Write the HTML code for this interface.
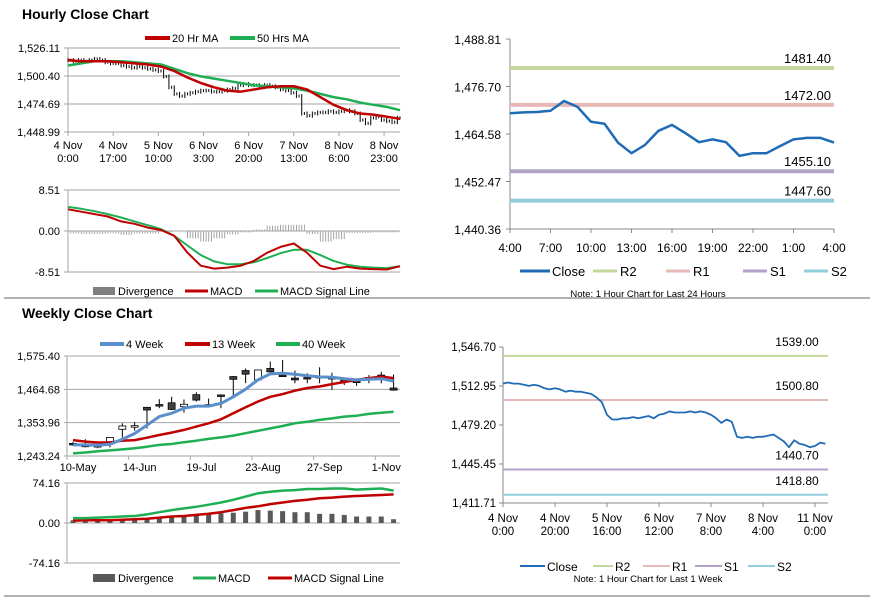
<!DOCTYPE html>
<html><head><meta charset="utf-8"><style>
html,body{margin:0;padding:0;background:#fff;}
svg{display:block;font-family:"Liberation Sans",Arial,sans-serif;}
</style></head><body>
<svg id="chart" width="873" height="601" viewBox="0 0 873 601" xmlns="http://www.w3.org/2000/svg">
<rect x="0" y="0" width="873" height="601" fill="#fff"/>
<text x="22" y="19" font-size="14" font-weight="bold" fill="#000">Hourly Close Chart</text>
<text x="22" y="318" font-size="14" font-weight="bold" fill="#000">Weekly Close Chart</text>
<line x1="4" y1="298" x2="870" y2="298" stroke="#999" stroke-width="1.5"/>
<line x1="4" y1="596" x2="870" y2="596" stroke="#999" stroke-width="1.5"/>
</svg>
<script>
// ---------- data ----------
const hourlyClose = [1515,1514,1515,1514,1515,1516,1515,1513,1512,1512,1510,1509,1508,1509,1508,1507,1506,1505,1500,1490,1484,1482,1484,1485,1486,1487,1487,1486,1486,1487,1488,1489,1492,1493,1492,1492,1491,1492,1491,1490,1488,1487,1485,1482,1466,1464,1466,1467,1467,1468,1467,1468,1469,1468,1466,1460,1457,1462,1463,1460,1459,1458,1462];
const hourlyMA20 = [1515,1514,1514,1514,1513,1512,1511,1509,1505,1499,1494,1490,1487,1486,1488,1490,1491,1491,1488,1481,1474,1469,1466,1465,1463,1461];
const hourlyMA50 = [1510,1512,1514,1514,1514,1513,1512,1511,1507,1503,1500,1498,1496,1494,1492,1491,1490,1489,1487,1484,1481,1479,1476,1474,1472,1469];
const hourlyMACD = [4.5,4.0,3.5,3.0,2.0,1.5,0.7,0.2,-1.0,-4.5,-7.2,-7.8,-7.6,-7.2,-6.2,-4.5,-3.3,-2.6,-4.5,-7.2,-7.9,-7.4,-7.8,-7.9,-8.0,-7.3];
const hourlySignal = [5.0,4.6,4.1,3.5,2.8,2.0,1.2,0.4,-1.0,-3.0,-5.0,-6.3,-6.9,-6.9,-6.5,-5.6,-4.6,-3.9,-3.9,-5.0,-6.2,-7.0,-7.4,-7.6,-7.7,-7.3];
const hourlyPriceTicks = ["1,448.99","1,474.69","1,500.40","1,526.11"];
const hourlyPriceTickVals = [1448.99,1474.69,1500.40,1526.11];
const hourlyXLabels = [["4 Nov","0:00"],["4 Nov","17:00"],["5 Nov","10:00"],["6 Nov","3:00"],["6 Nov","20:00"],["7 Nov","13:00"],["8 Nov","6:00"],["8 Nov","23:00"]];
const hourlyXHours = [0,17,34,51,68,85,102,119];

const dayClose = [1469.9,1470.1,1470.2,1470.5,1473.0,1471.5,1467.7,1467.2,1462.4,1459.7,1461.8,1465.4,1466.9,1464.8,1462.5,1463.2,1462.5,1459.0,1459.7,1459.7,1461.5,1463.2,1463.6,1463.6,1462.4];
const dayLevels = [1481.40,1472.00,1455.10,1447.60];
const dayLevelNames = ["R2","R1","S1","S2"];
const dayTickVals = [1440.36,1452.47,1464.58,1476.70,1488.81];
const dayXLabels = ["4:00","7:00","10:00","13:00","16:00","19:00","22:00","1:00","4:00"];

const weekOpen  = [1285,1282,1278,1291,1332,1343,1405,1414,1420,1407,1447,1414,1446,1507,1527,1496,1534,1512,1502,1504,1507,1504,1496,1492,1504,1512,1469];
const weekClose = [1283,1274,1277,1305,1343,1344,1396,1413,1398,1415,1429,1413,1445,1498,1515,1529,1523,1511,1496,1503,1506,1503,1495,1487,1503,1506,1462];
const weekHigh  = [1290,1299,1283,1305,1352,1356,1405,1432,1440,1431,1455,1434,1448,1509,1534,1529,1557,1562,1527,1518,1538,1520,1504,1501,1512,1523,1514];
const weekLow   = [1277,1272,1269,1272,1305,1327,1335,1402,1396,1387,1424,1407,1402,1441,1485,1494,1520,1509,1485,1485,1485,1463,1479,1476,1485,1485,1460];
const week4MA  = [1280,1280,1279,1282,1299,1318,1346,1374,1385,1402,1409,1409,1418,1440,1465,1496,1516,1518,1515,1510,1506,1505,1500,1496,1498,1500,1492];
const week13MA = [1296,1291,1288,1288,1294,1296,1304,1313,1321,1330,1341,1352,1365,1385,1405,1424,1440,1449,1460,1469,1474,1482,1489,1496,1502,1507,1502];
const week40MA = [1252,1255,1259,1262,1265,1269,1274,1280,1283,1289,1294,1300,1305,1311,1319,1327,1335,1343,1352,1357,1363,1368,1374,1377,1383,1387,1390];
const weekMACD   = [9,9,10,11,12,13,16,20,24,27,30,34,38,43,49,55,58,60,61,63,63,64,64,62,63,64,60];
const weekSignal = [4,5,5,5,6,7,8,10,12,13,15,17,20,24,28,31,35,38,41,43,46,47,49,50,51,52,53];
const weekTickVals = [1243.24,1353.96,1464.68,1575.40];
const weekXLabels = ["10-May","14-Jun","19-Jul","23-Aug","27-Sep","1-Nov"];
const weekXIdx = [0,5,10,15,20,25];

const wkHourClose = [1515,1516,1515,1515,1514,1513,1514,1513,1511,1510,1511,1510,1508,1509,1508,1508,1507,1506,1503,1499,1488,1484,1484,1485,1485,1486,1485,1486,1487,1485,1488,1489,1491,1490,1490,1490,1491,1490,1491,1490,1488,1485,1481,1484,1482,1469,1468,1469,1468,1469,1469,1470,1471,1468,1465,1460,1466,1463,1462,1460,1461,1464,1463];
const wkLevels = [1539.00,1500.80,1440.70,1418.80];
const wkTickVals = [1411.71,1445.45,1479.20,1512.95,1546.70];
const wkXLabels = [["4 Nov","0:00"],["4 Nov","20:00"],["5 Nov","16:00"],["6 Nov","12:00"],["7 Nov","8:00"],["8 Nov","4:00"],["11 Nov","0:00"]];
const wkXHours = [0,20,40,60,80,100,120];

// ---------- helpers ----------
const NS = "http://www.w3.org/2000/svg";
const svg = document.getElementById('chart');
function mk(parent, tag, attrs, name) {
  const el = document.createElementNS(NS, tag);
  for (const k in attrs) el.setAttribute(k, attrs[k]);
  
  
  parent.appendChild(el);
  return el;
}
function txt(x, y, s, size, anchor, name, color) {
  const t = mk(svg, 'text', {x: x, y: y, 'font-size': size, 'text-anchor': anchor || 'start', fill: color || '#000'}, name);
  t.textContent = s;
  return t;
}
function lin(d0, d1, r0, r1) { return v => r0 + (v - d0) * (r1 - r0) / (d1 - d0); }
function fmt(v) { return v.toFixed(2).replace(/\B(?=(\d{3})+(?!\d))/g, ','); }
function poly(pts, color, w, name) {
  return mk(svg, 'polyline', {points: pts.map(p => p[0].toFixed(1) + ',' + p[1].toFixed(1)).join(' '), fill: 'none', stroke: color, 'stroke-width': w, 'stroke-linejoin': 'round'}, name);
}
function legLine(x1, x2, y, color, w, label, name) {
  mk(svg, 'line', {x1: x1, y1: y, x2: x2, y2: y, stroke: color, 'stroke-width': w}, name + '-swatch');
  txt(x2 + 2, y + 4, label, 11, 'start', name + '-label');
}
function legRect(x1, x2, y, color, label, name) {
  mk(svg, 'rect', {x: x1, y: y - 4, width: x2 - x1, height: 8, fill: color}, name + '-swatch');
  txt(x2 + 3, y + 4, label, 11, 'start', name + '-label');
}
const GRID = '#a6a6a6';

// ---------- Panel 1: hourly price ----------
(function () {
  const x = lin(0, 125, 68, 400), y = lin(1448.99, 1526.11, 132, 48);
  hourlyPriceTickVals.forEach((v, i) => {
    mk(svg, 'line', {x1: 64, y1: y(v), x2: 400, y2: y(v), stroke: GRID, 'stroke-width': 1}, 'hourly-gridline');
    txt(60, y(v) + 4, hourlyPriceTicks[i], 11, 'end', 'hourly-y-tick');
  });
  mk(svg, 'line', {x1: 68, y1: 48, x2: 68, y2: 132, stroke: GRID}, 'hourly-y-axis');
  hourlyXHours.forEach((h, i) => {
    mk(svg, 'line', {x1: x(h), y1: 132, x2: x(h), y2: 136, stroke: GRID}, 'hourly-x-tickmark');
    txt(x(h), 149, hourlyXLabels[i][0], 11, 'middle', 'hourly-x-tick');
    txt(x(h), 162, hourlyXLabels[i][1], 11, 'middle', 'hourly-x-tick');
  });
  hourlyClose.forEach((c, i) => {
    const prev = i ? hourlyClose[i - 1] : c;
    const hi = Math.max(prev, c), lo = Math.min(prev, c);
    const y1 = y(hi) - 2, y2 = Math.max(y(lo) + 2, y1 + 4);
    mk(svg, 'line', {x1: x(2 * i), y1: y1, x2: x(2 * i), y2: y2, stroke: '#000', 'stroke-width': 1}, 'hourly-price-bar');
    mk(svg, 'line', {x1: x(2 * i + 1), y1: y(c) - 1.5, x2: x(2 * i + 1), y2: y(c) + 1.5, stroke: '#000', 'stroke-width': 1}, 'hourly-price-bar');
  });
  poly(hourlyMA50.map((v, i) => [x(5 * i), y(v)]), '#1fae54', 2.5, 'hourly-ma50-line');
  poly(hourlyMA20.map((v, i) => [x(5 * i), y(v)]), '#c00000', 2.5, 'hourly-ma20-line');
  legLine(145, 170, 38, '#c00000', 4, '20 Hr MA', 'legend-ma20');
  legLine(230, 255, 38, '#1fae54', 4, '50 Hrs MA', 'legend-ma50');
})();

// ---------- Panel 2: hourly MACD ----------
(function () {
  const x = lin(0, 125, 68, 400), y = lin(-8.51, 8.51, 272, 190);
  [-8.51, 0, 8.51].forEach(v => {
    mk(svg, 'line', {x1: 64, y1: y(v), x2: 400, y2: y(v), stroke: GRID}, 'hourly-macd-gridline');
    txt(60, y(v) + 4, v.toFixed(2), 11, 'end', 'hourly-macd-y-tick');
  });
  mk(svg, 'line', {x1: 68, y1: 190, x2: 68, y2: 272, stroke: GRID}, 'hourly-macd-y-axis');
  hourlyMACD.forEach((m, i) => {
    const d = m - hourlySignal[i];
    for (let k = 0; k < 5 && 5 * i + k <= 125; k++) {
      const xx = x(5 * i + k);
      mk(svg, 'line', {x1: xx, y1: y(0), x2: xx, y2: y(d), stroke: '#999', 'stroke-width': 0.9}, 'hourly-divergence-bar');
    }
  });
  poly(hourlySignal.map((v, i) => [x(5 * i), y(v)]), '#1fae54', 2, 'hourly-signal-line');
  poly(hourlyMACD.map((v, i) => [x(5 * i), y(v)]), '#c00000', 2, 'hourly-macd-line');
  legRect(93, 115, 291, '#7f7f7f', 'Divergence', 'legend-hourly-divergence');
  legLine(185, 208, 291, '#c00000', 3, 'MACD', 'legend-hourly-macd');
  legLine(255, 278, 291, '#1fae54', 3, 'MACD Signal Line', 'legend-hourly-signal');
})();

// ---------- Panel 3: last 24h ----------
(function () {
  const x = lin(0, 24, 510, 834), y = lin(1440.36, 1488.81, 229, 39);
  mk(svg, 'line', {x1: 510, y1: 39, x2: 510, y2: 229, stroke: '#888'}, 'day-y-axis');
  mk(svg, 'line', {x1: 510, y1: 229, x2: 834, y2: 229, stroke: '#888'}, 'day-x-axis');
  dayTickVals.forEach(v => {
    mk(svg, 'line', {x1: 506, y1: y(v), x2: 510, y2: y(v), stroke: '#888'}, 'day-y-tickmark');
    txt(501, y(v) + 5, fmt(v), 12, 'end', 'day-y-tick');
  });
  dayXLabels.forEach((s, i) => {
    mk(svg, 'line', {x1: x(3 * i), y1: 229, x2: x(3 * i), y2: 233, stroke: '#888'}, 'day-x-tickmark');
    txt(x(3 * i), 252, s, 12, 'middle', 'day-x-tick');
  });
  const cols = ['#c3d69b', '#e6b9b8', '#b3a2c7', '#93cddd'];
  dayLevels.forEach((v, i) => {
    mk(svg, 'line', {x1: 510, y1: y(v), x2: 834, y2: y(v), stroke: cols[i], 'stroke-width': 4}, 'day-level-' + dayLevelNames[i].toLowerCase());
    txt(831, y(v) - 5, v.toFixed(2), 13, 'end', 'day-level-label');
  });
  poly(dayClose.map((v, i) => [x(i), y(v)]), '#1f6bb5', 2.5, 'day-close-line');
  legLine(520, 550, 271, '#1f6bb5', 3, '', 'legend-day-close');
  txt(552, 276, 'Close', 13, 'start', 'legend-day-close-text');
  [[593, 617, 'R2'], [666, 690, 'R1'], [743, 767, 'S1'], [804, 828, 'S2']].forEach((L, i) => {
    mk(svg, 'line', {x1: L[0], y1: 271, x2: L[1], y2: 271, stroke: cols[i], 'stroke-width': 3}, 'legend-day-' + L[2].toLowerCase());
    txt(L[1] + 3, 276, L[2], 13, 'start', 'legend-day-' + L[2].toLowerCase() + '-text');
  });
  txt(648, 297, 'Note: 1 Hour Chart for Last 24 Hours', 9.5, 'middle', 'day-note');
})();

// ---------- Panel 4: weekly candles ----------
(function () {
  const x = i => 73 + 12.33 * i, y = lin(1243.24, 1575.40, 456, 356);
  weekTickVals.forEach(v => {
    mk(svg, 'line', {x1: 64, y1: y(v), x2: 400, y2: y(v), stroke: GRID}, 'weekly-gridline');
    txt(60, y(v) + 4, fmt(v), 11, 'end', 'weekly-y-tick');
  });
  mk(svg, 'line', {x1: 67, y1: 356, x2: 67, y2: 456, stroke: GRID}, 'weekly-y-axis');
  weekXIdx.forEach((k, i) => {
    mk(svg, 'line', {x1: x(k) - 6, y1: 456, x2: x(k) - 6, y2: 460, stroke: GRID}, 'weekly-x-tickmark');
    txt(x(k) + 5, 471, weekXLabels[i], 11, 'middle', 'weekly-x-tick');
  });
  weekOpen.forEach((o, i) => {
    const c = weekClose[i];
    mk(svg, 'line', {x1: x(i), y1: y(weekHigh[i]), x2: x(i), y2: y(weekLow[i]), stroke: '#000', 'stroke-width': 1}, 'weekly-candle-wick');
    const top = y(Math.max(o, c)), h = Math.max(Math.abs(y(o) - y(c)), 1.5);
    mk(svg, 'rect', {x: x(i) - 3.5, y: top, width: 7, height: h, fill: c < o ? '#404040' : '#fff', stroke: '#000', 'stroke-width': 0.8}, 'weekly-candle-body');
  });
  poly(week40MA.map((v, i) => [x(i), y(v)]), '#1fae54', 2.5, 'weekly-40wk-line');
  poly(week13MA.map((v, i) => [x(i), y(v)]), '#c00000', 2.5, 'weekly-13wk-line');
  poly(week4MA.map((v, i) => [x(i), y(v)]), '#5b8fcb', 3, 'weekly-4wk-line');
  legLine(100, 124, 344, '#5b8fcb', 4, '4 Week', 'legend-4wk');
  legLine(185, 210, 344, '#c00000', 4, '13 Week', 'legend-13wk');
  legLine(276, 300, 344, '#1fae54', 4, '40 Week', 'legend-40wk');
})();

// ---------- Panel 5: weekly MACD ----------
(function () {
  const x = i => 73 + 12.33 * i, y = lin(-74.16, 74.16, 563, 483);
  [-74.16, 0, 74.16].forEach(v => {
    mk(svg, 'line', {x1: 64, y1: y(v), x2: 400, y2: y(v), stroke: GRID}, 'weekly-macd-gridline');
    txt(60, y(v) + 4, v.toFixed(2), 11, 'end', 'weekly-macd-y-tick');
  });
  mk(svg, 'line', {x1: 67, y1: 483, x2: 67, y2: 563, stroke: GRID}, 'weekly-macd-y-axis');
  weekMACD.forEach((m, i) => {
    const d = m - weekSignal[i];
    mk(svg, 'rect', {x: x(i) - 2.5, y: Math.min(y(d), y(0)), width: 5, height: Math.abs(y(d) - y(0)), fill: '#595959'}, 'weekly-divergence-bar');
  });
  poly(weekSignal.map((v, i) => [x(i), y(v)]), '#c00000', 2.5, 'weekly-signal-line');
  poly(weekMACD.map((v, i) => [x(i), y(v)]), '#1fae54', 2.5, 'weekly-macd-line');
  legRect(93, 115, 578, '#595959', 'Divergence', 'legend-weekly-divergence');
  legLine(193, 216, 578, '#1fae54', 3, 'MACD', 'legend-weekly-macd');
  legLine(268, 292, 578, '#c00000', 3, 'MACD Signal Line', 'legend-weekly-signal');
})();

// ---------- Panel 6: last week hourly ----------
(function () {
  const x = lin(0, 125, 503, 828), y = lin(1411.71, 1546.70, 503, 347);
  mk(svg, 'line', {x1: 503, y1: 347, x2: 503, y2: 503, stroke: '#888'}, 'wk-y-axis');
  mk(svg, 'line', {x1: 503, y1: 503, x2: 828, y2: 503, stroke: '#888'}, 'wk-x-axis');
  wkTickVals.forEach(v => {
    mk(svg, 'line', {x1: 499, y1: y(v), x2: 503, y2: y(v), stroke: '#888'}, 'wk-y-tickmark');
    txt(496, y(v) + 4, fmt(v), 11.5, 'end', 'wk-y-tick');
  });
  wkXHours.forEach((h, i) => {
    mk(svg, 'line', {x1: x(h), y1: 503, x2: x(h), y2: 507, stroke: '#888'}, 'wk-x-tickmark');
    txt(x(h), 522, wkXLabels[i][0], 11.5, 'middle', 'wk-x-tick');
    txt(x(h), 535, wkXLabels[i][1], 11.5, 'middle', 'wk-x-tick');
  });
  const cols = ['#c3d69b', '#e6b9b8', '#b3a2c7', '#93cddd'];
  wkLevels.forEach((v, i) => {
    mk(svg, 'line', {x1: 503, y1: y(v), x2: 828, y2: y(v), stroke: cols[i], 'stroke-width': 2}, 'wk-level-' + dayLevelNames[i].toLowerCase());
    txt(797, y(v) - 10, v.toFixed(2), 12, 'middle', 'wk-level-label');
  });
  poly(wkHourClose.map((v, i) => [x(2 * i), y(v)]), '#1f6bb5', 1.8, 'wk-close-line');
  mk(svg, 'line', {x1: 520, y1: 566, x2: 545, y2: 566, stroke: '#1f6bb5', 'stroke-width': 2}, 'legend-wk-close');
  txt(547, 571, 'Close', 12, 'start', 'legend-wk-close-text');
  [[593, 613, 'R2'], [643, 670, 'R1'], [695, 722, 'S1'], [748, 775, 'S2']].forEach((L, i) => {
    mk(svg, 'line', {x1: L[0], y1: 566, x2: L[1], y2: 566, stroke: cols[i], 'stroke-width': 2}, 'legend-wk-' + L[2].toLowerCase());
    txt(L[1] + 2, 571, L[2], 12, 'start', 'legend-wk-' + L[2].toLowerCase() + '-text');
  });
  txt(648, 582, 'Note: 1 Hour Chart for Last 1 Week', 9.5, 'middle', 'wk-note');
})();
</script>
</body></html>
